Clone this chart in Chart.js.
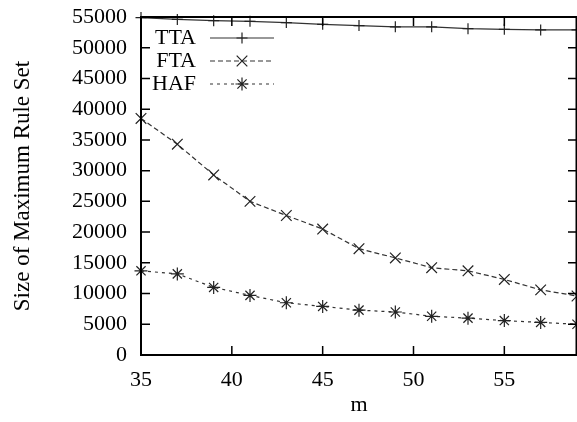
<!DOCTYPE html>
<html>
<head>
<meta charset="utf-8">
<script src="https://cdn.jsdelivr.net/npm/chart.js@4/dist/chart.umd.min.js"></script>
<style>
html,body{margin:0;padding:0;background:#fff;}
#wrap{width:577px;height:422px;}
</style>
</head>
<body>
<div id="wrap"><canvas id="c" width="577" height="422"></canvas></div>
<script>
const mValues = [35, 37, 39, 41, 43, 45, 47, 49, 51, 53, 55, 57, 59];
const ttaValues = [54900, 54600, 54400, 54300, 54100, 53800, 53600, 53400, 53400, 53100, 53000, 52900, 52900];
const ftaValues = [38500, 34300, 29300, 25000, 22700, 20500, 17300, 15800, 14200, 13700, 12300, 10600, 9600];
const hafValues = [13700, 13200, 11000, 9700, 8500, 7900, 7300, 7000, 6300, 6000, 5600, 5300, 5000];
const xTickValues = [35, 40, 45, 50, 55];
const yTickValues = [0, 5000, 10000, 15000, 20000, 25000, 30000, 35000, 40000, 45000, 50000, 55000];
const seriesNames = ['TTA', 'FTA', 'HAF'];

const FONT = 'Liberation Serif, Times New Roman, serif';

function pts(vals){ return mValues.map((m,i)=>({x:m,y:vals[i]})); }

const frameAndTicks = {
  id:'frameAndTicks',
  afterDraw(chart){
    const ctx = chart.ctx, a = chart.chartArea;
    const xs = chart.scales.x, ys = chart.scales.y;
    const L = 9;
    ctx.save();
    ctx.strokeStyle = '#000';
    ctx.lineWidth = 1.5;
    ctx.beginPath();
    xTickValues.forEach(v=>{
      const px = xs.getPixelForValue(v);
      ctx.moveTo(px, a.bottom); ctx.lineTo(px, a.bottom - L);
      ctx.moveTo(px, a.top); ctx.lineTo(px, a.top + L);
    });
    yTickValues.forEach(v=>{
      const py = ys.getPixelForValue(v);
      ctx.moveTo(a.left, py); ctx.lineTo(a.left + L, py);
      ctx.moveTo(a.right, py); ctx.lineTo(a.right - L, py);
    });
    ctx.stroke();
    ctx.lineWidth = 2;
    ctx.strokeRect(a.left, a.top, a.right - a.left - 0.5, a.bottom - a.top);
    // key
    ctx.font = '22px ' + FONT;
    ctx.fillStyle = '#000';
    ctx.textAlign = 'right';
    ctx.textBaseline = 'middle';
    chart.data.datasets.forEach((ds,i)=>{
      const y = 38 + 23*i;
      ctx.fillText(ds.label, 196, y);
      ctx.save();
      ctx.strokeStyle = ds.borderColor;
      ctx.lineWidth = ds.borderWidth;
      ctx.setLineDash(ds.borderDash || []);
      ctx.beginPath();
      ctx.moveTo(210, y); ctx.lineTo(274, y);
      ctx.stroke();
      ctx.restore();
      ctx.save();
      ctx.strokeStyle = ds.pointBorderColor;
      ctx.lineWidth = ds.pointBorderWidth;
      Chart.helpers.drawPoint(ctx, {pointStyle: ds.pointStyle, radius: ds.pointRadius, rotation: 0, borderWidth: ds.pointBorderWidth}, 242, y);
      ctx.restore();
    });
    ctx.restore();
  }
};

new Chart(document.getElementById('c'), {
  type: 'line',
  data: {
    datasets: [
      {label: seriesNames[0], data: pts(ttaValues), borderColor:'#333', borderWidth:1.2, borderDash:[],
       pointStyle:'cross', pointRadius:5.5, pointBorderColor:'#222', pointBorderWidth:1.2, pointBackgroundColor:'#222', clip:false, tension:0},
      {label: seriesNames[1], data: pts(ftaValues), borderColor:'#333', borderWidth:1.2, borderDash:[5,3],
       pointStyle:'crossRot', pointRadius:7.5, pointBorderColor:'#222', pointBorderWidth:1.2, pointBackgroundColor:'#222', clip:false, tension:0},
      {label: seriesNames[2], data: pts(hafValues), borderColor:'#333', borderWidth:1.2, borderDash:[3,4],
       pointStyle:'star', pointRadius:6.5, pointBorderColor:'#222', pointBorderWidth:1.2, pointBackgroundColor:'#222', clip:false, tension:0}
    ]
  },
  options: {
    responsive:false, animation:false, devicePixelRatio:1,
    layout:{autoPadding:false, padding:{top:17, right:0, left:0, bottom:0}},
    plugins:{legend:{display:false}, tooltip:{enabled:false}},
    scales:{
      x:{type:'linear', min:35, max:59,
        afterBuildTicks(s){ s.ticks = xTickValues.map(v=>({value:v})); },
        afterFit(s){ s.height = 67; s.paddingLeft = 0; s.paddingRight = 0; },
        grid:{display:false, drawTicks:false}, border:{display:false},
        ticks:{padding:12, color:'#000', font:{family:FONT, size:22}},
        title:{display:true, text:'m', color:'#000', font:{family:FONT, size:22}, padding:{top:0,bottom:4}}
      },
      y:{type:'linear', min:0, max:55000,
        afterBuildTicks(s){ s.ticks = yTickValues.map(v=>({value:v})); },
        afterFit(s){ s.width = 141; s.paddingTop = 0; s.paddingBottom = 0; },
        grid:{display:false, drawTicks:false}, border:{display:false},
        ticks:{padding:14, color:'#000', font:{family:FONT, size:22}, callback:v=>String(v)},
        title:{display:true, text:'Size of Maximum Rule Set', color:'#000', font:{family:FONT, size:23}, padding:{top:9,bottom:0}}
      }
    }
  },
  plugins:[frameAndTicks]
});
</script>
</body>
</html>
